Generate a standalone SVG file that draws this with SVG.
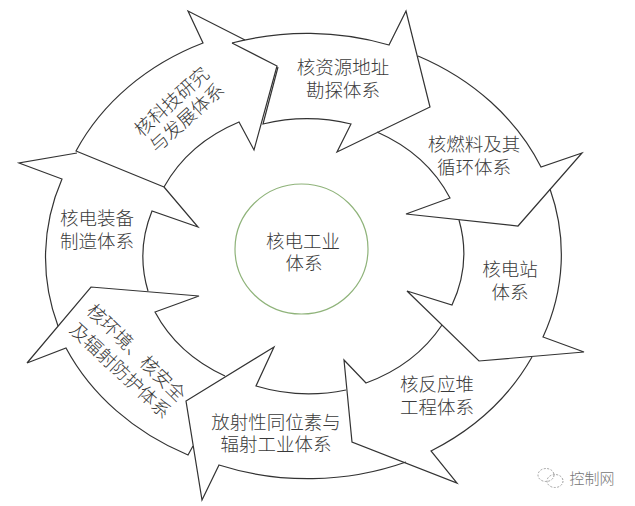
<svg xmlns="http://www.w3.org/2000/svg" width="635" height="506" viewBox="0 0 635 506">
<style>
.a{fill:none;stroke:#333;stroke-width:1.2;stroke-linejoin:miter}
text{font-family:"Liberation Serif","Noto Sans CJK SC",serif;font-size:18.5px;font-weight:300;fill:#3a3a3a;text-anchor:middle}
</style>
<rect width="635" height="506" fill="#fff"/>
<g id="core"><ellipse cx="301.5" cy="249" rx="66.5" ry="65" fill="none" stroke="#8fb37a" stroke-width="1.2"/>
<text x="303" y="248">核电工业</text><text x="304" y="270">体系</text></g>
<g id="n-tech"><path class="a" d="M164 187L76 151A252 222 0 0 1 203 43L188 11L245 40M232 43L277 66L254 150L239 122A160 140 0 0 0 164 187"/>
<text transform="translate(172 102) rotate(-42)" y="6">核科技研究</text><text transform="translate(187 118) rotate(-42)" y="6">与发展体系</text></g>
<g id="n-res"><path class="a" d="M232 43A258 223 0 0 1 389 45L406 11L430 107L337 152L351 124A160 138 0 0 0 263 124L278 67"/>
<text x="343" y="74">核资源地址</text><text x="343" y="97">勘探体系</text></g>
<g id="n-fuel"><path class="a" d="M418 56A258 223 0 0 1 541 167L582 153L518 226L406 214L450 198A160 138 0 0 0 377 132"/>
<text x="474" y="151">核燃料及其</text><text x="474" y="174">循环体系</text></g>
<g id="n-plant"><path class="a" d="M550 189A258 223 0 0 1 543 337L584 352L479 361L407 291L452 305A160 138 0 0 0 459 220"/>
<text x="510" y="276">核电站</text><text x="510" y="299">体系</text></g>
<g id="n-reactor"><path class="a" d="M532 357A258 223 0 0 1 431 451L457 483L352 442L344 360L366 383A160 138 0 0 0 442 325"/>
<text x="437" y="391">核反应堆</text><text x="437" y="414">工程体系</text></g>
<g id="n-isotope"><path class="a" d="M406 462A258 223 0 0 1 219 465L202 500L186 401L274 347L256 386A160 138 0 0 0 346 390"/>
<text x="276" y="429">放射性同位素与</text><text x="276" y="451">辐射工业体系</text></g>
<g id="n-env"><path class="a" d="M193 446L188 455A258 223 0 0 1 66 348L27 363L91 287L199 296L155 312A160 138 0 0 0 225 376"/>
<text transform="translate(136 353) rotate(44.5)" y="6">核环境、核安全</text><text transform="translate(120 371) rotate(43)" y="6">及辐射防护体系</text></g>
<g id="n-equip"><path class="a" d="M58 326A258 223 0 0 1 62 179L19 163L77 153M164 187L198 227L152 211A160 138 0 0 0 148 291"/>
<text x="97" y="225">核电装备</text><text x="97" y="248">制造体系</text></g>
<g id="watermark"><g fill="none" stroke="#a0a0a0" stroke-width="1" stroke-dasharray="2 1.5"><ellipse cx="546" cy="475" rx="8" ry="6.5"/><ellipse cx="555" cy="481" rx="8" ry="6.5"/></g>
<text x="592" y="484" style="font-size:15px;fill:#777">控制网</text></g>
</svg>
